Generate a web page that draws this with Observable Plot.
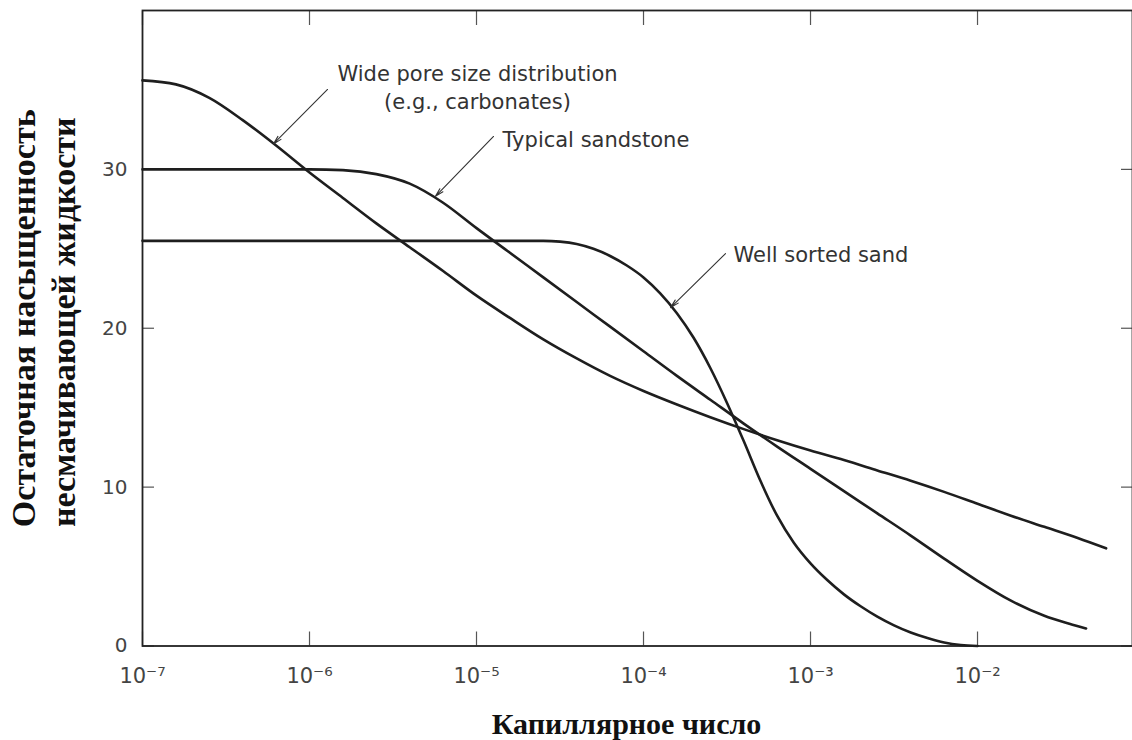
<!DOCTYPE html>
<html>
<head>
<meta charset="utf-8">
<script src="https://cdn.jsdelivr.net/npm/d3@7"></script>
<script src="https://cdn.jsdelivr.net/npm/@observablehq/plot@0.6"></script>
<style>
  html, body { margin: 0; padding: 0; background: #ffffff; }
  #chart svg { display: block; }
</style>
</head>
<body>
<div id="chart"></div>
<script>
// ---- Data ----
// capillary number given as exponent of 10, residual saturation in %
const wideExp = [-7.0, -6.8, -6.6, -6.4, -6.2, -6.0, -5.8, -5.6, -5.4, -5.2, -5.0, -4.8, -4.6, -4.4, -4.2, -4.0, -3.8, -3.6, -3.4, -3.2, -3.0, -2.8, -2.6, -2.4, -2.2, -2.0, -1.8, -1.6, -1.4, -1.23];
const wideSat = [35.6, 35.35, 34.5, 33.1, 31.5, 29.8, 28.2, 26.6, 25.1, 23.6, 22.05, 20.65, 19.3, 18.1, 17.0, 16.05, 15.2, 14.4, 13.65, 12.95, 12.3, 11.7, 11.05, 10.4, 9.7, 8.95, 8.2, 7.5, 6.8, 6.15];

const sandstoneExp = [-7.0, -6.5, -6.0, -5.8, -5.6, -5.4, -5.2, -5.0, -4.8, -4.6, -4.4, -4.2, -4.0, -3.8, -3.6, -3.4, -3.2, -3.0, -2.8, -2.6, -2.4, -2.2, -2.0, -1.8, -1.6, -1.45, -1.35];
const sandstoneSat = [30.0, 30.0, 30.0, 29.95, 29.7, 29.1, 27.9, 26.3, 24.75, 23.2, 21.65, 20.1, 18.55, 17.0, 15.5, 14.0, 12.55, 11.15, 9.75, 8.35, 6.95, 5.5, 4.1, 2.85, 1.9, 1.4, 1.1];

const sortedExp = [-7.0, -6.0, -5.0, -4.6, -4.5, -4.4, -4.3, -4.2, -4.1, -4.0, -3.9, -3.8, -3.7, -3.6, -3.5, -3.4, -3.3, -3.2, -3.1, -3.0, -2.9, -2.8, -2.7, -2.6, -2.5, -2.4, -2.3, -2.2, -2.1, -2.0];
const sortedSat = [25.5, 25.5, 25.5, 25.5, 25.45, 25.3, 25.0, 24.55, 23.95, 23.2, 22.2, 20.95, 19.4, 17.5, 15.3, 12.9, 10.4, 8.2, 6.5, 5.2, 4.15, 3.25, 2.5, 1.85, 1.3, 0.85, 0.5, 0.22, 0.06, 0.0];

const seriesNames = ["Wide pore size distribution", "Typical sandstone", "Well sorted sand"];

const xTickValues = [1e-7, 1e-6, 1e-5, 1e-4, 1e-3, 1e-2];
const xTickLabels = ["10⁻⁷", "10⁻⁶", "10⁻⁵", "10⁻⁴", "10⁻³", "10⁻²"];
const yTickValues = [0, 10, 20, 30];
const yTickLabels = ["0", "10", "20", "30"];

const xTitle = "Капиллярное число";
const yTitleLine1 = "Остаточная насыщенность";
const yTitleLine2 = "несмачивающей жидкости";

// annotations (data units: exponent of capillary number, saturation)
const labelTexts = ["Wide pore size distribution\n(e.g., carbonates)", "Typical sandstone", "Well sorted sand"];
const labelExp = [-4.994, -4.844, -3.461];
const labelSat = [36.85, 31.38, 24.14];
const labelAnchor = ["middle", "start", "start"];

const arrowFromExp = [-5.892, -4.898, -3.509];
const arrowFromSat = [35.03, 32.07, 24.70];
const arrowToExp = [-6.216, -5.246, -3.838];
const arrowToSat = [31.6, 28.3, 21.3];

// ---- Build tables ----
function rows(name, exps, sats) {
  return exps.map((e, i) => ({series: name, ca: Math.pow(10, e), sat: sats[i]}));
}
const curves = [
  ...rows(seriesNames[0], wideExp, wideSat),
  ...rows(seriesNames[1], sandstoneExp, sandstoneSat),
  ...rows(seriesNames[2], sortedExp, sortedSat)
];
const labels = labelTexts.map((t, i) => ({text: t, ca: Math.pow(10, labelExp[i]), sat: labelSat[i], anchor: labelAnchor[i]}));
const arrows = arrowFromExp.map((e, i) => ({
  x1: Math.pow(10, e), y1: arrowFromSat[i],
  x2: Math.pow(10, arrowToExp[i]), y2: arrowToSat[i]
}));

const fmtX = d => xTickLabels[xTickValues.findIndex(v => Math.abs(Math.log10(v) - Math.log10(d)) < 1e-6)];
const fmtY = d => yTickLabels[yTickValues.indexOf(d)];

const annFont = {fontFamily: "DejaVu Sans", fontSize: 21, fill: "#333"};
const titleFont = {fontFamily: "Liberation Serif", fontWeight: "bold", fill: "#111"};

const chart = Plot.plot({
  width: 1132,
  height: 740,
  marginLeft: 142,
  marginRight: 0,
  marginTop: 10,
  marginBottom: 94.5,
  style: {background: "#ffffff", fontFamily: "DejaVu Sans"},
  x: {type: "log", domain: [1e-7, Math.pow(10, -1.072)], axis: null},
  y: {domain: [0, 40], axis: null},
  marks: [
    // tick labels
    Plot.axisX(xTickValues, {anchor: "bottom", tickSize: 0, tickPadding: 22, tickFormat: fmtX, fontSize: 21, fill: "#444", label: null, fontFamily: "DejaVu Sans"}),
    Plot.axisY(yTickValues, {anchor: "left", tickSize: 0, tickPadding: 15, tickFormat: fmtY, fontSize: 20, fill: "#444", label: null, fontFamily: "DejaVu Sans"}),
    // inward ticks on all four sides
    Plot.axisX(xTickValues, {anchor: "bottom", tickSize: -14, fill: "none", stroke: "#555", strokeWidth: 1.2, label: null}),
    Plot.axisX(xTickValues, {anchor: "top", tickSize: -14, fill: "none", stroke: "#555", strokeWidth: 1.2, label: null}),
    Plot.axisY(yTickValues, {anchor: "left", tickSize: -12, fill: "none", stroke: "#555", strokeWidth: 1.2, label: null}),
    Plot.axisY(yTickValues, {anchor: "right", tickSize: -12, fill: "none", stroke: "#555", strokeWidth: 1.2, label: null}),
    Plot.frame({stroke: "#222", strokeWidth: 1.8}),
    // curves
    Plot.line(curves, {x: "ca", y: "sat", z: "series", curve: "monotone-x", stroke: "#1e1e1e", strokeWidth: 2.6}),
    // annotations
    Plot.arrow(arrows, {x1: "x1", y1: "y1", x2: "x2", y2: "y2", stroke: "#333", strokeWidth: 1.1, headLength: 12, headAngle: 28}),
    Plot.text(labels.filter(d => d.anchor === "middle"), {x: "ca", y: "sat", text: "text", textAnchor: "middle", lineAnchor: "top", lineHeight: 1.36, ...annFont}),
    Plot.text(labels.filter(d => d.anchor === "start"), {x: "ca", y: "sat", text: "text", textAnchor: "start", lineAnchor: "bottom", ...annFont}),
    // axis titles
    Plot.text([xTitle], {frameAnchor: "bottom", textAnchor: "middle", dx: -11, dy: 88, lineAnchor: "bottom", fontSize: 30, ...titleFont}),
    Plot.text([yTitleLine1], {frameAnchor: "left", textAnchor: "middle", rotate: -90, dx: -118, dy: -10, lineAnchor: "middle", fontSize: 34, ...titleFont}),
    Plot.text([yTitleLine2], {frameAnchor: "left", textAnchor: "middle", rotate: -90, dx: -78, dy: -6, lineAnchor: "middle", fontSize: 34, ...titleFont})
  ]
});

document.getElementById("chart").appendChild(chart);
</script>
</body>
</html>
